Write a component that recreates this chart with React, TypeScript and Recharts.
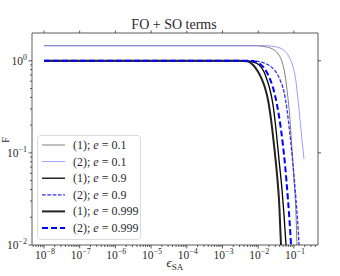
import React from "react";
import { LineChart, Line, XAxis, YAxis } from "recharts";

const W = 340;
const H = 276;
const SERIF = "'Liberation Serif', 'DejaVu Serif', serif";

const X_DOMAIN = [4.62e-9, 0.473];
const Y_DOMAIN = [0.01, 2.0];

const X_MAJOR = [1e-8, 1e-7, 1e-6, 1e-5, 1e-4, 1e-3, 1e-2, 1e-1];
const X_LABELS = ["−8", "−7", "−6", "−5", "−4", "−3", "−2", "−1"];
const Y_MAJOR = [1e-2, 1e-1, 1];
const Y_LABELS = ["−2", "−1", "0"];

// values (x = eps_SA, y)
const ONE_E01 = [
  { x: 1e-8, y: 1.456 }, { x: 0.0081, y: 1.456 }, { x: 0.0155, y: 1.42 },
  { x: 0.0244, y: 1.35 }, { x: 0.0359, y: 1.191 }, { x: 0.0465, y: 0.975 },
  { x: 0.0564, y: 0.705 }, { x: 0.0641, y: 0.484 }, { x: 0.0778, y: 0.229 },
  { x: 0.0885, y: 0.108 }, { x: 0.1007, y: 0.0509 }, { x: 0.1146, y: 0.0212 },
  { x: 0.1222, y: 0.01 }, { x: 0.128, y: 0.007 },
];
const TWO_E01 = [
  { x: 1e-8, y: 1.456 }, { x: 0.0155, y: 1.456 }, { x: 0.0296, y: 1.42 },
  { x: 0.0496, y: 1.317 }, { x: 0.073, y: 1.105 }, { x: 0.0944, y: 0.861 },
  { x: 0.1146, y: 0.591 }, { x: 0.1303, y: 0.377 }, { x: 0.1483, y: 0.229 },
  { x: 0.1687, y: 0.138 }, { x: 0.1919, y: 0.086 },
];
const ONE_E09 = [
  { x: 1e-8, y: 1 }, { x: 0.0043, y: 1 }, { x: 0.0067, y: 0.975 },
  { x: 0.0105, y: 0.905 }, { x: 0.0145, y: 0.759 }, { x: 0.0176, y: 0.622 },
  { x: 0.0214, y: 0.484 }, { x: 0.026, y: 0.332 }, { x: 0.0316, y: 0.178 },
  { x: 0.0383, y: 0.0839 }, { x: 0.0465, y: 0.0396 }, { x: 0.0528, y: 0.0212 },
  { x: 0.0601, y: 0.01 }, { x: 0.064, y: 0.007 },
];
const TWO_E09 = [
  { x: 1e-8, y: 1 }, { x: 0.0059, y: 1 }, { x: 0.0112, y: 0.975 },
  { x: 0.0188, y: 0.905 }, { x: 0.0296, y: 0.779 }, { x: 0.0408, y: 0.622 },
  { x: 0.0528, y: 0.46 }, { x: 0.0641, y: 0.293 }, { x: 0.0778, y: 0.157 },
  { x: 0.0944, y: 0.0741 }, { x: 0.1146, y: 0.0308 }, { x: 0.139, y: 0.01 },
  { x: 0.145, y: 0.007 },
];
const ONE_E999 = [
  { x: 1e-8, y: 1 }, { x: 0.003, y: 1 }, { x: 0.0049, y: 0.985 },
  { x: 0.0071, y: 0.905 }, { x: 0.0099, y: 0.759 }, { x: 0.0128, y: 0.622 },
  { x: 0.0155, y: 0.509 }, { x: 0.0188, y: 0.377 }, { x: 0.0229, y: 0.229 },
  { x: 0.0277, y: 0.122 }, { x: 0.0337, y: 0.0577 }, { x: 0.0383, y: 0.0308 },
  { x: 0.0436, y: 0.01 }, { x: 0.046, y: 0.007 },
];
const TWO_E999 = [
  { x: 1e-8, y: 1 }, { x: 0.0059, y: 1 }, { x: 0.0099, y: 0.951 },
  { x: 0.0145, y: 0.839 }, { x: 0.0201, y: 0.67 }, { x: 0.026, y: 0.509 },
  { x: 0.0337, y: 0.332 }, { x: 0.0436, y: 0.178 }, { x: 0.0564, y: 0.0741 },
  { x: 0.0684, y: 0.0308 }, { x: 0.083, y: 0.01 }, { x: 0.087, y: 0.007 },
];

const SERIES = [
  { id: "1", e: "0.1", data: ONE_E01, color: "#808080", width: 1, dash: undefined },
  { id: "2", e: "0.1", data: TWO_E01, color: "#8484ff", width: 0.8, dash: undefined },
  { id: "1", e: "0.9", data: ONE_E09, color: "#000000", width: 1.3, dash: undefined },
  { id: "2", e: "0.9", data: TWO_E09, color: "#3030ff", width: 1.3, dash: "3.7 1.6" },
  { id: "1", e: "0.999", data: ONE_E999, color: "#222222", width: 2, dash: undefined },
  { id: "2", e: "0.999", data: TWO_E999, color: "#0000ff", width: 2, dash: "6 3" },
];

function minorTicks(lo: number, hi: number) {
  const out: number[] = [];
  for (let p = -9; p <= 0; p++) {
    for (let m = 2; m <= 9; m++) {
      const v = m * Math.pow(10, p);
      if (v > lo && v < hi) out.push(v);
    }
  }
  return out;
}

const X_TICKS = [...X_MAJOR, ...minorTicks(X_DOMAIN[0], X_DOMAIN[1])].sort((a, b) => a - b);
const Y_TICKS = [...Y_MAJOR, ...minorTicks(Y_DOMAIN[0], Y_DOMAIN[1])].sort((a, b) => a - b);

const isMajor = (v: number) => Math.abs(Math.log10(v) - Math.round(Math.log10(v))) < 1e-6;
const AX = "#333";
const TXT = "#2a2a2a";

function Pow({ x, y, exp, anchor }: { x: number; y: number; exp: string; anchor: string }) {
  return (
    <text x={x} y={y} textAnchor={anchor as any} fontFamily={SERIF} fontSize={11.5} fill={TXT}>
      10<tspan dy={-5} fontSize={8}>{exp}</tspan>
    </text>
  );
}

const BottomTick = (props: any) => {
  const { x, y, payload } = props;
  const v = payload.value;
  const major = isMajor(v);
  const idx = X_MAJOR.findIndex((m) => Math.abs(m - v) / m < 1e-6);
  return (
    <g>
      <line x1={x} x2={x} y1={y} y2={y + (major ? 3.5 : 2)} stroke={AX} strokeWidth={0.8} />
      {idx >= 0 && <Pow x={x + 1} y={y + 14} exp={X_LABELS[idx]} anchor="middle" />}
    </g>
  );
};

const TopTick = (props: any) => {
  const { x, y } = props;
  return <line x1={x} x2={x} y1={y} y2={y - 2.5} stroke={AX} strokeWidth={0.8} />;
};

const LeftTick = (props: any) => {
  const { x, y, payload } = props;
  const v = payload.value;
  const major = isMajor(v);
  const idx = Y_MAJOR.findIndex((m) => Math.abs(m - v) / m < 1e-6);
  return (
    <g>
      <line x1={x - (major ? 3.5 : 2)} x2={x} y1={y} y2={y} stroke={AX} strokeWidth={0.8} />
      {idx >= 0 && <Pow x={x - 5} y={y + 4} exp={Y_LABELS[idx]} anchor="end" />}
    </g>
  );
};

const RightTick = (props: any) => {
  const { x, y } = props;
  return <line x1={x} x2={x + 3} y1={y} y2={y} stroke={AX} strokeWidth={0.8} />;
};

export default function App() {
  return (
    <div style={{ position: "absolute", left: 0, top: 0, width: W, height: H, background: "#fff" }}>
      <LineChart width={W} height={H} margin={{ top: 0, right: 0, bottom: 0, left: 0 }}>
        <XAxis
          xAxisId="b"
          dataKey="x"
          type="number"
          scale="log"
          domain={X_DOMAIN}
          allowDataOverflow
          ticks={X_TICKS}
          interval={0}
          height={31}
          tickSize={0}
          tickMargin={0}
          tickLine={false}
          tick={<BottomTick />}
          axisLine={{ stroke: AX, strokeWidth: 0.8 }}
        />
        <XAxis
          xAxisId="t"
          orientation="top"
          dataKey="x"
          type="number"
          scale="log"
          domain={X_DOMAIN}
          allowDataOverflow
          ticks={X_MAJOR}
          interval={0}
          height={33}
          tickSize={0}
          tickMargin={0}
          tickLine={false}
          tick={<TopTick />}
          axisLine={{ stroke: AX, strokeWidth: 0.8 }}
        />
        <YAxis
          yAxisId="l"
          type="number"
          scale="log"
          domain={Y_DOMAIN}
          allowDataOverflow
          ticks={Y_TICKS}
          interval={0}
          width={32}
          tickSize={0}
          tickMargin={0}
          tickLine={false}
          tick={<LeftTick />}
          axisLine={{ stroke: AX, strokeWidth: 0.8 }}
        />
        <YAxis
          yAxisId="r"
          orientation="right"
          type="number"
          scale="log"
          domain={Y_DOMAIN}
          allowDataOverflow
          ticks={[0.1, 1]}
          interval={0}
          width={22}
          tickSize={0}
          tickMargin={0}
          tickLine={false}
          tick={<RightTick />}
          axisLine={{ stroke: AX, strokeWidth: 0.8 }}
        />
        {SERIES.map((s, i) => (
          <Line
            key={i}
            xAxisId="b"
            yAxisId="l"
            data={s.data}
            dataKey="y"
            type="monotone"
            stroke={s.color}
            strokeWidth={s.width}
            strokeDasharray={s.dash}
            dot={false}
            activeDot={false}
            isAnimationActive={false}
          />
        ))}
      </LineChart>
      <svg width={W} height={H} style={{ position: "absolute", left: 0, top: 0, pointerEvents: "none" }}>
        <text x={174} y={28.5} textAnchor="middle" fontFamily={SERIF} fontSize={14} fill={TXT}>
          FO + SO terms
        </text>
        <text x={175} y={267} textAnchor="middle" fontFamily={SERIF} fontSize={13} fill={TXT}>
          <tspan fontStyle="italic">ϵ</tspan>
          <tspan dy={3} fontSize={9}>SA</tspan>
        </text>
        <text x={9} y={140} transform="rotate(-90 9 140)" textAnchor="middle" fontFamily={SERIF} fontSize={10} fill={TXT}>
          F
        </text>
        <rect x={37.5} y={135.5} width={103} height={104} rx={3} fill="#fff" fillOpacity={0.8} stroke="#d0d0d0" strokeWidth={0.8} />
        {SERIES.map((s, i) => {
          const cy = 145 + i * 16.6;
          return (
            <g key={i}>
              <line x1={42} x2={65} y1={cy} y2={cy} stroke={s.color} strokeWidth={s.width} strokeDasharray={s.dash} />
              <text x={73} y={cy + 4} fontFamily={SERIF} fontSize={12} fill={TXT}>
                ({s.id}); <tspan fontStyle="italic">e</tspan> = {s.e}
              </text>
            </g>
          );
        })}
      </svg>
    </div>
  );
}
